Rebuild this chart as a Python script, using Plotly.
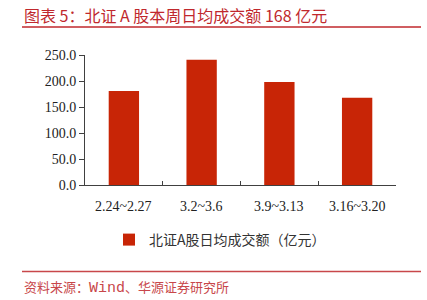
import plotly.graph_objects as go

categories = ["2.24~2.27", "3.2~3.6", "3.9~3.13", "3.16~3.20"]
values = [181, 241, 198, 168]
y_ticks = [0, 50, 100, 150, 200, 250]
y_tick_labels = ["0.0", "50.0", "100.0", "150.0", "200.0", "250.0"]
series_name = "北证A股日均成交额（亿元）"
title_text = "图表 5：北证 A 股本周日均成交额 168 亿元"
source_text = "资料来源：<span style='font-family:Liberation Mono, monospace;font-size:15px'>Wind</span>、华源证券研究所"

W, H = 427, 300
L, R, T, B = 85, 31, 55, 115
pw, ph = W - L - R, H - T - B

def px_x(x):
    return (x - L) / pw

def px_y(y):
    return (H - B - y) / ph

fig = go.Figure()
fig.add_trace(go.Bar(
    x=categories, y=values, name=series_name,
    marker=dict(color="#C82506", line=dict(width=0)),
    width=0.39, showlegend=True,
))

serif = "Liberation Serif, Times New Roman, serif"
cjk = "Noto Sans CJK SC, sans-serif"

fig.update_layout(
    width=W, height=H,
    margin=dict(l=L, r=R, t=T, b=B, pad=0),
    paper_bgcolor="white", plot_bgcolor="white",
    xaxis=dict(
        showline=True, linecolor="#404040", linewidth=1,
        ticks="inside", ticklen=4, tickcolor="#404040",
        tickmode="array", tickvals=[-0.5, 0.5, 1.5, 2.5, 3.5], ticktext=["", "", "", "", ""],
        range=[-0.5, 3.5], showgrid=False, zeroline=False,
    ),
    yaxis=dict(
        range=[0, 250], tickvals=y_ticks, ticktext=y_tick_labels,
        showline=True, linecolor="#404040", linewidth=1,
        ticks="outside", ticklen=5, tickcolor="#404040",
        showgrid=False, zeroline=False,
        tickfont=dict(family=serif, size=14, color="#222222"),
    ),
    legend=dict(
        orientation="h", x=px_x(220), xanchor="center",
        y=px_y(240), yanchor="middle",
        font=dict(family=cjk, size=14, color="#333333"),
    ),
    showlegend=True,
)

for i, c in enumerate(categories):
    fig.add_annotation(x=i, y=0, xref="x", yref="y", text=c, showarrow=False,
                       yanchor="top", yshift=-12,
                       font=dict(family=serif, size=14, color="#222222"))

fig.add_annotation(x=px_x(22), y=px_y(15), xref="paper", yref="paper", xanchor="left", yanchor="middle",
                   text=title_text, showarrow=False,
                   font=dict(family=cjk, size=16, color="#C0282D"))
fig.add_shape(type="line", xref="paper", yref="paper", x0=px_x(22), x1=px_x(421),
              y0=px_y(27), y1=px_y(27), line=dict(color="#C0282D", width=1.5))
fig.add_shape(type="line", xref="paper", yref="paper", x0=px_x(22), x1=px_x(421),
              y0=px_y(271.5), y1=px_y(271.5), line=dict(color="#C8474A", width=1.5))
fig.add_annotation(x=px_x(22), y=px_y(287), xref="paper", yref="paper", xanchor="left", yanchor="middle",
                   text=source_text, showarrow=False,
                   font=dict(family=cjk, size=13, color="#C8474A"))

fig.write_html("out.html")
